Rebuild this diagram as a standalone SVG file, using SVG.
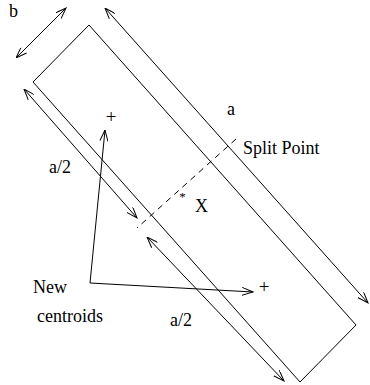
<svg xmlns="http://www.w3.org/2000/svg" width="370" height="385" viewBox="0 0 370 385">
<style>
.ln{fill:none;stroke:#000;stroke-width:1}
.arr2{marker-start:url(#ahs);marker-end:url(#ah)}
.dash{fill:none;stroke:#000;stroke-width:1;stroke-dasharray:6 5}
text{font-family:"Liberation Serif","Times New Roman",serif;font-size:18px;fill:#000}
.pl{font-size:19px;text-anchor:middle}
</style>
<defs>
<marker id="ah" markerWidth="14" markerHeight="10" refX="11" refY="4" orient="auto" markerUnits="userSpaceOnUse">
<path d="M0,0 L11,4 L0,8" fill="none" stroke="#000" stroke-width="1"/>
</marker>
<marker id="ahs" markerWidth="14" markerHeight="10" refX="0" refY="4" orient="auto" markerUnits="userSpaceOnUse">
<path d="M11,0 L0,4 L11,8" fill="none" stroke="#000" stroke-width="1"/>
</marker>
</defs>
<g id="rectangle">
<polygon class="ln" points="89,25 356,325 300,382 33,82"/>
</g>
<g id="split">
<line class="dash" x1="236" y1="139" x2="137" y2="228"/>
<text x="182.5" y="201" style="font-size:13px;text-anchor:middle">*</text>
<text x="195" y="212">X</text>
<text x="243" y="154">Split Point</text>
</g>
<g id="centroids">
<text class="pl" x="111" y="123">+</text>
<text class="pl" x="264" y="293">+</text>
<text x="33" y="293">New</text>
<text x="37" y="322">centroids</text>
</g>
<g id="labels">
<text x="9" y="17">b</text>
<text x="227" y="115">a</text>
<text x="49" y="173">a/2</text>
<text x="170" y="326">a/2</text>
</g>
<g id="connectors">
<line class="ln arr2" x1="16" y1="58" x2="66" y2="8"/>
<line class="ln arr2" x1="105" y1="8" x2="368" y2="303"/>
<line class="ln arr2" x1="24" y1="89" x2="137" y2="218"/>
<line class="ln arr2" x1="147" y1="237" x2="284" y2="381"/>
<polyline class="ln arr2" points="105,130 90,283 253,292"/>
</g>
</svg>
